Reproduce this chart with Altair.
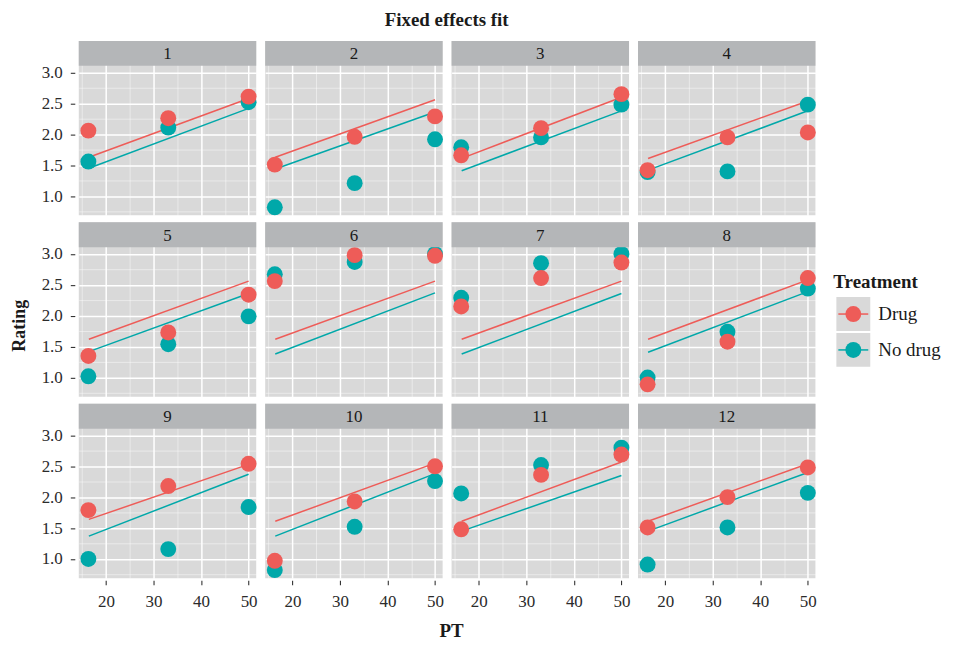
import altair as alt
import pandas as pd

FONT = "Liberation Serif"
RED = "#EE5C58"
TEAL = "#00A8A9"
PANEL = "#D9D9D9"
STRIP = "#B4B6B8"

subjects = [str(i) for i in range(1, 13)]
treatments = ["Drug", "No drug"]
pt_obs = [16.3, 33.1, 50.0]
drug_obs = [
    [2.06, 2.26, 2.61], [1.51, 1.96, 2.29], [1.66, 2.10, 2.65], [1.42, 1.95, 2.03],
    [1.35, 1.73, 2.34], [2.56, 2.98, 2.97], [2.15, 2.61, 2.86], [0.89, 1.58, 2.61],
    [1.79, 2.18, 2.54], [0.97, 1.93, 2.50], [1.48, 2.36, 2.69], [1.51, 2.00, 2.48],
]
nodrug_obs = [
    [1.56, 2.11, 2.52], [0.82, 1.21, 1.92], [1.79, 1.95, 2.48], [1.39, 1.40, 2.48],
    [1.02, 1.54, 1.99], [2.67, 2.87, 3.00], [2.29, 2.85, 3.00], [1.00, 1.74, 2.44],
    [1.00, 1.16, 1.84], [0.82, 1.52, 2.26], [2.06, 2.52, 2.80], [0.91, 1.51, 2.07],
]
pt_fit = [16.4, 50.0]
drug_fit = [
    [1.63, 2.58], [1.63, 2.56], [1.61, 2.60], [1.61, 2.54], [1.62, 2.56], [1.62, 2.56],
    [1.62, 2.56], [1.62, 2.58], [1.64, 2.53], [1.61, 2.55], [1.61, 2.57], [1.61, 2.54],
]
nodrug_fit = [
    [1.45, 2.42], [1.44, 2.36], [1.41, 2.38], [1.42, 2.38], [1.42, 2.36], [1.38, 2.37],
    [1.38, 2.36], [1.41, 2.39], [1.37, 2.37], [1.37, 2.38], [1.45, 2.35], [1.45, 2.40],
]
x_ticks = [15, 20, 25, 30, 35, 40, 45, 50]
y_ticks = [0.75, 1.0, 1.25, 1.5, 1.75, 2.0, 2.25, 2.5, 2.75, 3.0]
x_domain = [14.28, 51.6]
y_domain = [0.689, 3.511]

rows = []
for i, s in enumerate(subjects):
    for trt, obs in (("No drug", nodrug_obs[i]), ("Drug", drug_obs[i])):
        for x, y in zip(pt_obs, obs):
            rows.append(dict(Subject=s, Treatment=trt, PT=x, Rating=y, kind="obs", strip=False))
    for trt, fit in (("No drug", nodrug_fit[i]), ("Drug", drug_fit[i])):
        for j, (x, y) in enumerate(zip(pt_fit, fit)):
            rows.append(dict(Subject=s, Treatment=trt, PT=x, Rating=y, kind="fit",
                             strip=(trt == "Drug" and j == 0)))
df = pd.DataFrame(rows)

W, H, SH = 178, 175, 25

color = alt.Color("Treatment:N", scale=alt.Scale(domain=treatments, range=[RED, TEAL]), legend=None)

x_axis = alt.Axis(
    values=x_ticks, title=None, domain=False, labelFlush=False, offset=1,
    labelExpr="datum.value % 10 === 0 ? datum.label : ''",
    gridColor="white",
    gridWidth={"condition": {"test": "datum.value % 10 === 0", "value": 1.5}, "value": 0.6},
    gridOpacity={"condition": {"test": "datum.value % 10 === 0", "value": 1}, "value": 0.75},
    tickOpacity={"condition": {"test": "datum.value % 10 === 0", "value": 1}, "value": 0},
    tickColor="#333333", tickSize=4.5, tickWidth=1.1,
    labelFont=FONT, labelFontSize=17, labelColor="#2b2b2b", labelPadding=9,
)
y_axis = alt.Axis(
    values=y_ticks, title=None, domain=False, labelFlush=False, offset=2,
    labelExpr="datum.value % 0.5 === 0 ? format(datum.value, '.1f') : ''",
    gridColor="white",
    gridWidth={"condition": {"test": "datum.value % 0.5 === 0", "value": 1.5}, "value": 0.6},
    gridOpacity={"condition": {"test": "datum.value % 0.5 === 0", "value": 1}, "value": 0.75},
    tickOpacity={"condition": {"test": "datum.value % 0.5 === 0", "value": 1}, "value": 0},
    tickColor="#333333", tickSize=4.5, tickWidth=1.1,
    labelFont=FONT, labelFontSize=17, labelColor="#2b2b2b", labelPadding=8,
)

xenc = alt.X("PT:Q", scale=alt.Scale(domain=x_domain, nice=False, zero=False), axis=x_axis)
yenc = alt.Y("Rating:Q", scale=alt.Scale(domain=y_domain, nice=False, zero=False), axis=y_axis)

lines = alt.Chart().transform_filter("datum.kind === 'fit'").mark_line(strokeWidth=1.5).encode(
    x=xenc, y=yenc, color=color, detail="Treatment:N"
)
points = alt.Chart().transform_filter("datum.kind === 'obs'").mark_circle(size=255, opacity=1).encode(
    x=xenc, y=yenc, color=color
)
strip_rect = alt.Chart().transform_filter("datum.strip").mark_rect(color=STRIP).encode(
    x=alt.value(0), x2=alt.value(W), y=alt.value(0), y2=alt.value(SH)
)
strip_text = alt.Chart().transform_filter("datum.strip").mark_text(
    font=FONT, fontSize=17, color="#1a1a1a", baseline="middle", align="center"
).encode(x=alt.value(W / 2), y=alt.value(SH / 2 + 1), text="Subject:N")

panel = alt.layer(lines, points, strip_rect, strip_text, data=df).properties(
    width=W, height=H, view=alt.ViewBackground(fill=PANEL, stroke=None)
)

facet = panel.facet(
    facet=alt.Facet("Subject:N", sort=subjects, title=None,
                    header=alt.Header(labels=False, labelExpr="''", labelFontSize=0,
                                      labelPadding=0, titlePadding=0)),
    columns=4,
    spacing={"row": 6, "column": 6},
).properties(
    title=alt.TitleParams("Fixed effects fit", font=FONT, fontSize=19, fontWeight="bold",
                          color="#1a1a1a", anchor="middle", offset=11, dx=18)
)

with_x = alt.vconcat(facet).properties(
    title=alt.TitleParams("PT", orient="bottom", font=FONT, fontSize=19, fontWeight="bold",
                          color="#1a1a1a", anchor="middle", offset=12, dx=23)
)
with_y = alt.hconcat(with_x).properties(
    title=alt.TitleParams("Rating", orient="left", font=FONT, fontSize=18, fontWeight="bold",
                          color="#1a1a1a", anchor="middle", offset=12)
)

leg_df = pd.DataFrame({"Treatment": treatments})
ly = alt.Y("Treatment:N", scale=alt.Scale(domain=treatments, range=[256, 328]), axis=None)
lcolor = alt.Color("Treatment:N", scale=alt.Scale(domain=treatments, range=[RED, TEAL]), legend=None)
leg_sq = alt.Chart(leg_df).mark_square(size=34 * 34, color=PANEL, opacity=1).encode(x=alt.value(17), y=ly)
leg_rule = alt.Chart(leg_df).mark_rule(strokeWidth=1.5).encode(
    x=alt.value(2), x2=alt.value(32), y=ly, color=lcolor)
leg_pt = alt.Chart(leg_df).mark_circle(size=255, opacity=1).encode(x=alt.value(17), y=ly, color=lcolor)
leg_txt = alt.Chart(leg_df).mark_text(font=FONT, fontSize=19, align="left", baseline="middle",
                                     color="#1a1a1a").encode(x=alt.value(42), y=ly, text="Treatment:N")
leg_title = alt.Chart(leg_df).transform_filter("datum.Treatment === 'Drug'").mark_text(
    font=FONT, fontSize=19, fontWeight="bold", align="left", baseline="middle", color="#1a1a1a"
).encode(x=alt.value(-3), y=alt.value(242), text=alt.value("Treatment"))
legend = alt.layer(leg_sq, leg_rule, leg_pt, leg_txt, leg_title).properties(
    width=110, height=540, view=alt.ViewBackground(stroke=None)
)

chart = alt.hconcat(with_y, legend, spacing=17).properties(
    padding={"left": 3, "top": 2, "right": 5, "bottom": 5}
).configure_view(stroke=None).configure_header(labels=False, labelFontSize=0, labelPadding=0)

chart.save("out.html", embed_options={"renderer": "svg", "actions": False})
